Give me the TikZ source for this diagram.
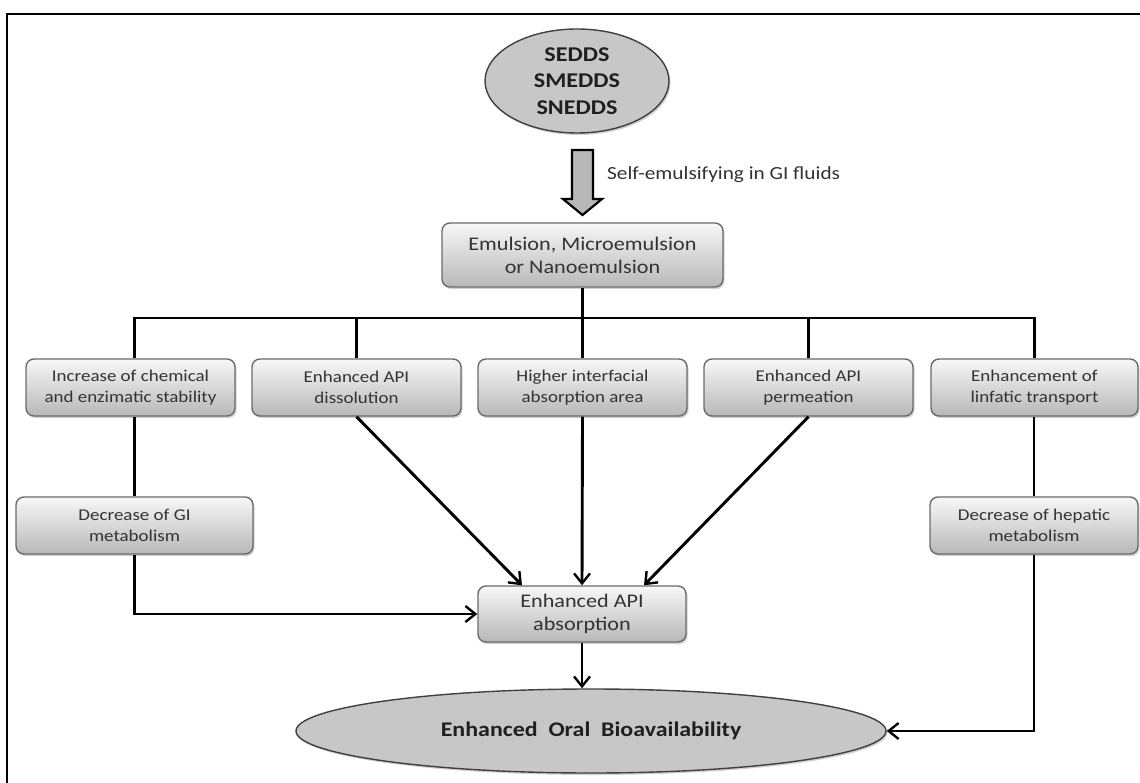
\documentclass[tikz,border=0pt]{standalone}
\usepackage{fontspec}
\setmainfont[FakeStretch=1.15]{Carlito}
\usetikzlibrary{shapes.geometric,arrows.meta,shadows,calc}
\begin{document}
\begin{tikzpicture}[x=1pt,y=-1pt,
  conn/.style={line width=2.9pt, draw=black},
  arr/.style={conn, -{Straight Barb[length=10pt,width=16pt,line width=2.4pt]}},
  box/.style={rounded corners=8pt, draw=black!58, line width=1.4pt,
    top color=black!3, bottom color=black!28,
    drop shadow={shadow xshift=1.5pt,shadow yshift=-2pt,opacity=0.3,fill=black!60},
    align=center, text=black!80, inner sep=2pt, minimum height=57pt},
  rowtext/.style={font=\fontsize{16.5}{21}\selectfont},
  bigtext/.style={font=\fontsize{19.3}{23}\selectfont},
  ell/.style={ellipse, draw=black!75, line width=1.4pt, fill=black!22, inner sep=0pt,
    drop shadow={shadow xshift=1.5pt,shadow yshift=-2pt,opacity=0.3,fill=black!60},
    align=center, text=black!88}
]
\useasboundingbox (0,0) rectangle (1140,783);
\fill[white] (0,0) rectangle (1140,783);
% frame
\draw[line width=2.7pt] (7,790) -- (7,14) -- (1145,14);

% top ellipse
\node[ell, minimum width=184pt, minimum height=104pt,
  font=\bfseries\fontsize{21}{26.5}\selectfont] (top) at (577,81) {SEDDS\\SMEDDS\\SNEDDS};

% block arrow
\draw[line width=2.2pt, fill=black!28, line join=miter]
  (572,150) -- (593,150) -- (593,199) -- (602,199) -- (582.5,215) -- (563,199) -- (572,199) -- cycle;
\node[anchor=west, font=\fontsize{18.5}{22}\selectfont, text=black!80, inner sep=0pt] (lbl) at (607,175) {Self-emulsifying in GI fluids};

% emulsion box
\node[box, bigtext, minimum width=281pt, minimum height=64pt] (emul) at (582.5,255) {Emulsion, Microemulsion\\or Nanoemulsion};

% row boxes
\node[box, rowtext, minimum width=209pt] (b1) at (130.5,387.5) {Increase of chemical\\and enzimatic stability};
\node[box, rowtext, minimum width=209pt] (b2) at (356.5,387.5) {Enhanced API\\dissolution};
\node[box, rowtext, minimum width=209pt] (b3) at (582.5,387.5) {Higher interfacial\\absorption area};
\node[box, rowtext, minimum width=209pt] (b4) at (808.5,387.5) {Enhanced API\\permeation};
\node[box, rowtext, minimum width=207pt] (b5) at (1034.5,387.5) {Enhancement of\\linfatic transport};

% second level
\node[box, rowtext, minimum width=237pt] (gi) at (134.5,525.5) {Decrease of GI\\metabolism};
\node[box, rowtext, minimum width=208pt] (hep) at (1034,525.5) {Decrease of hepatic\\metabolism};

% absorption
\node[box, bigtext, minimum width=208pt, minimum height=56pt] (abs) at (582,614) {Enhanced API\\absorption};

% bottom ellipse
\node[ell, minimum width=590pt, minimum height=84pt,
  font=\bfseries\fontsize{20.8}{24}\selectfont] (oral) at (591,731) {Enhanced\ \ Oral\ \ Bioavailability};

% connectors
\coordinate (bar) at (0,318);
\draw[conn] (emul.south) -- (emul.south |- bar);
\draw[conn] (gi.north |- b1.north) -- (gi.north |- bar) -- (b5.north |- bar) -- (b5.north);
\foreach \b in {b2,b3,b4} \draw[conn] (\b.north) -- (\b.north |- bar);
\draw[conn] (gi.north |- b1.south) -- (gi.north);
\draw[arr] (gi.south) |- (abs.west);
\draw[arr] (b2.south) -- ($(abs.north)+(-60,0)$);
\draw[arr] (b3.south) -- (abs.north);
\draw[arr] (b4.south) -- ($(abs.north)+(62,0)$);
\draw[arr] (abs.south) -- (abs.south |- oral.north);
\draw[conn] (hep.north) -- (hep.north |- b5.south);
\draw[arr] (hep.south) |- (oral.east);
\end{tikzpicture}
\end{document}
